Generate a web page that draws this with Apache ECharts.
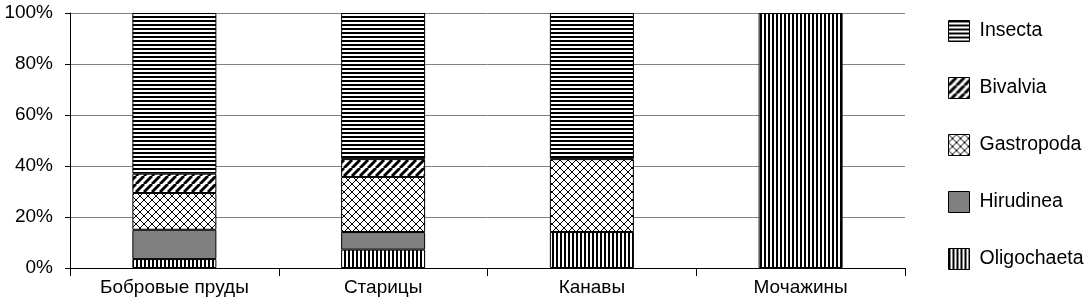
<!DOCTYPE html>
<html><head><meta charset="utf-8">
<script src="https://cdn.jsdelivr.net/npm/echarts@6/dist/echarts.min.js"></script>
<style>html,body{margin:0;padding:0;background:#fff;}#c{width:1088px;height:299px;}</style>
</head><body><div id="c"></div>
<script>
var categories = ['Бобровые пруды', 'Старицы', 'Канавы', 'Мочажины'];
var oligochaeta = [3.5, 7.2, 14.1, 100];
var hirudinea = [11.5, 6.9, 0, 0];
var gastropoda = [14.4, 21.6, 28.6, 0];
var bivalvia = [7.6, 7.0, 0, 0];
var insecta = [63.0, 57.3, 57.3, 0];
var yTicks = [0, 20, 40, 60, 80, 100];

function pat(w, h, draw) {
  var c = document.createElement('canvas');
  c.width = w; c.height = h;
  var g = c.getContext('2d');
  g.fillStyle = '#fff'; g.fillRect(0, 0, w, h);
  draw(g, w, h);
  return {image: c, repeat: 'repeat'};
}
var pInsecta = pat(4, 4, function (g) { g.fillStyle = '#000'; g.fillRect(0, 0, 4, 2); });
var pOligo = pat(4, 4, function (g) { g.fillStyle = '#000'; g.fillRect(0, 0, 2, 4); });
var pBival = pat(8, 8, function (g) {
  g.strokeStyle = '#000'; g.lineWidth = 3;
  [-8, 0, 8].forEach(function (o) {
    g.beginPath(); g.moveTo(o, 8); g.lineTo(o + 8, 0); g.stroke();
  });
});
var pGastro = pat(8, 8, function (g) {
  g.strokeStyle = '#000'; g.lineWidth = 1;
  [-8, 0, 8].forEach(function (o) {
    g.beginPath(); g.moveTo(o, 8); g.lineTo(o + 8, 0); g.stroke();
    g.beginPath(); g.moveTo(o, 0); g.lineTo(o + 8, 8); g.stroke();
  });
});

var FONT = "'Liberation Sans', Arial, sans-serif";
function mk(name, data, color) {
  return {
    name: name, type: 'bar', stack: 'a', barWidth: 84,
    data: data.map(function (v) { return v === 0 ? '-' : v; }),
    itemStyle: {color: color, borderColor: '#000', borderWidth: 1},
    emphasis: {disabled: true}
  };
}
var chart = echarts.init(document.getElementById('c'), null, {renderer: 'canvas'});
chart.setOption({
  animation: false,
  backgroundColor: '#fff',
  grid: {left: 70, right: 183, top: 13, bottom: 31, containLabel: false},
  legend: {
    orient: 'vertical', left: 948, top: 20, padding: 0, icon: 'rect',
    itemWidth: 21, itemHeight: 21, itemGap: 35,
    data: ['Insecta', 'Bivalvia', 'Gastropoda', 'Hirudinea', 'Oligochaeta'],
    textStyle: {fontFamily: FONT, fontSize: 19.5, color: '#000', padding: [0, 0, 0, 5]},
    itemStyle: {borderColor: '#000', borderWidth: 1}
  },
  xAxis: {
    type: 'category', data: categories,
    axisLine: {lineStyle: {color: '#000', width: 1}},
    axisTick: {show: true, length: 8, lineStyle: {color: '#000'}},
    axisLabel: {fontFamily: FONT, fontSize: 19, color: '#000', margin: 10}
  },
  yAxis: {
    type: 'value', min: yTicks[0], max: yTicks[yTicks.length - 1], interval: 20,
    axisLine: {show: true, lineStyle: {color: '#000', width: 1}},
    axisTick: {show: true, length: 5, lineStyle: {color: '#000'}},
    splitLine: {lineStyle: {color: '#808080', width: 1}},
    axisLabel: {fontFamily: FONT, fontSize: 19, color: '#000', margin: 17, formatter: '{value}%'}
  },
  series: [
    mk('Oligochaeta', oligochaeta, pOligo),
    mk('Hirudinea', hirudinea, '#808080'),
    mk('Gastropoda', gastropoda, pGastro),
    mk('Bivalvia', bivalvia, pBival),
    mk('Insecta', insecta, pInsecta)
  ]
});
</script></body></html>
